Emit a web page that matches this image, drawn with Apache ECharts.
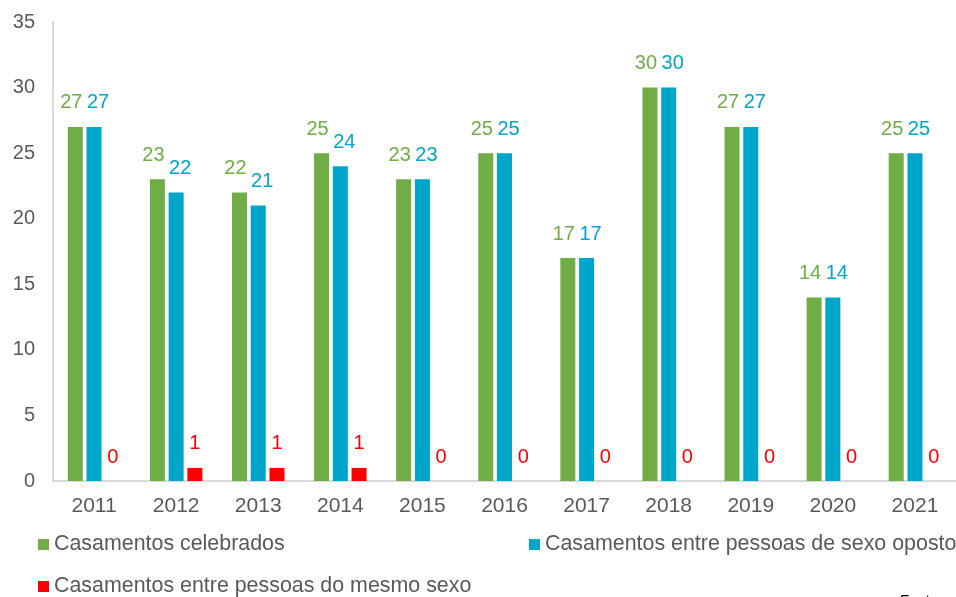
<!DOCTYPE html>
<html>
<head>
<meta charset="utf-8">
<script src="https://cdn.jsdelivr.net/npm/echarts@6/dist/echarts.min.js"></script>
<style>
  html, body { margin: 0; padding: 0; background: #fff; }
  #chart { width: 956px; height: 597px; }
</style>
</head>
<body>
<div id="chart"></div>
<script>
const years = ['2011', '2012', '2013', '2014', '2015', '2016', '2017', '2018', '2019', '2020', '2021'];
const celebrados = [27, 23, 22, 25, 23, 25, 17, 30, 27, 14, 25];
const sexoOposto = [27, 22, 21, 24, 23, 25, 17, 30, 27, 14, 25];
const mesmoSexo = [0, 1, 1, 1, 0, 0, 0, 0, 0, 0, 0];

const names = ['Casamentos celebrados', 'Casamentos entre pessoas de sexo oposto', 'Casamentos entre pessoas do mesmo sexo'];
const colors = ['#70AD47', '#00A5CA', '#FF0000'];
const font = 'Liberation Sans, Arial, sans-serif';

function barSeries(i, data, offset) {
  return {
    name: names[i],
    type: 'bar',
    data: data,
    barWidth: 15,
    barGap: '25%',
    itemStyle: { color: colors[i] },
    label: {
      show: true,
      position: 'top',
      distance: 14,
      offset: offset,
      color: colors[i],
      fontSize: 20,
      fontFamily: font
    }
  };
}

const chart = echarts.init(document.getElementById('chart'));
chart.setOption({
  animation: false,
  textStyle: { fontFamily: font },
  grid: { left: 53, top: 22, width: 913, bottom: 116, containLabel: false },
  legend: [
    { data: [names[0]], left: 38, top: 534, padding: 0, itemWidth: 11, itemHeight: 11, icon: 'rect',
      textStyle: { fontSize: 21.4, color: '#595959' } },
    { data: [names[1]], left: 529, top: 534, padding: 0, itemWidth: 11, itemHeight: 11, icon: 'rect',
      textStyle: { fontSize: 21.4, color: '#595959' } },
    { data: [names[2]], left: 38, top: 576, padding: 0, itemWidth: 11, itemHeight: 11, icon: 'rect',
      textStyle: { fontSize: 21.4, color: '#595959' } }
  ],
  xAxis: {
    type: 'category',
    data: years,
    axisLine: { lineStyle: { color: '#D9D9D9', width: 2 } },
    axisTick: { show: false },
    axisLabel: { color: '#595959', fontSize: 21, margin: 15 }
  },
  yAxis: {
    type: 'value',
    min: 0,
    max: 35,
    interval: 5,
    axisLine: { show: true, lineStyle: { color: '#D9D9D9', width: 2 } },
    axisTick: { show: false },
    splitLine: { show: false },
    axisLabel: { color: '#595959', fontSize: 20, margin: 18 }
  },
  graphic: [
    { type: 'text', left: 900, top: 593, style: { text: 'Fonte:', fontSize: 15, fill: '#000', fontFamily: font } }
  ],
  series: [
    barSeries(0, celebrados, [-4, 0]),
    barSeries(1, sexoOposto, [4, 0]),
    barSeries(2, mesmoSexo, [0, 0])
  ]
});
</script>
</body>
</html>
